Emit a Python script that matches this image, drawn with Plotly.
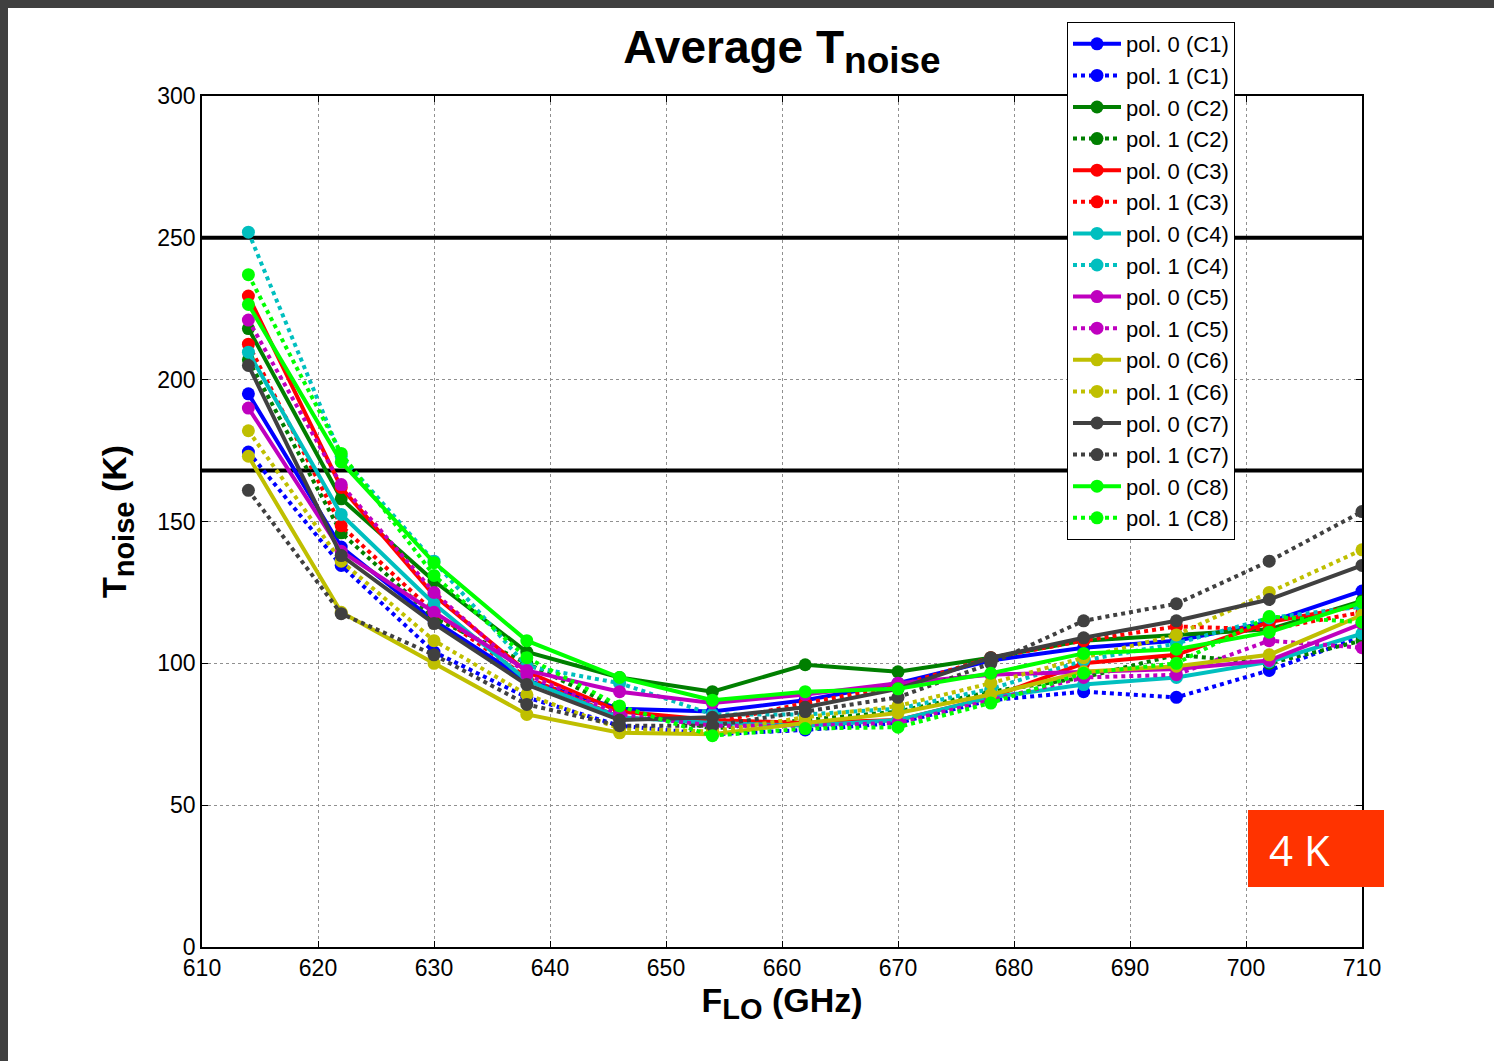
import plotly.graph_objects as go

freq = [614, 622, 630, 638, 646, 654, 662, 670, 678, 686, 694, 702, 710]

c1_pol0 = [195, 141, 115, 94, 84, 83, 87, 93, 101, 105.5, 108, 114.5, 125.5]
c1_pol1 = [174.5, 134.5, 104, 88, 78, 75, 76.5, 79, 87, 90, 88, 97.5, 109.5]
c2_pol0 = [218, 158, 129, 104, 95, 90, 99.5, 97, 102, 108, 110, 112, 122]
c2_pol1 = [207, 146, 116, 100, 84, 77, 80, 83, 90, 95, 103, 100, 108]
c3_pol0 = [229.5, 162, 124, 97, 83, 80, 79, 80, 88, 100, 103, 114.5, 120.5]
c3_pol1 = [212.5, 148.5, 118, 95, 81, 79, 86, 92, 102, 108, 113, 112, 118]
c4_pol0 = [209.7, 152.5, 121, 94, 81, 79, 78, 80, 88, 92.5, 95, 100.5, 110.5]
c4_pol1 = [252, 173, 136, 99, 93, 82, 82, 84, 91, 101, 107, 116, 120]
c5_pol0 = [190, 139.5, 118, 97.5, 90, 86, 89, 93, 96, 97, 98, 101, 114]
c5_pol1 = [221, 163, 125, 96, 82, 78, 78, 79, 87, 95, 96, 108, 105.5]
c6_pol0 = [173, 118, 100, 82, 75.5, 75, 79, 82.5, 89, 97, 99, 103, 117]
c6_pol1 = [182, 136, 108, 89, 77, 76, 81, 85, 93, 102, 110, 125, 140]
c7_pol0 = [205, 138, 114, 92.5, 80, 81, 84.5, 91, 102, 109, 115, 122.5, 134.5]
c7_pol1 = [161, 117.5, 103, 85.5, 78, 78, 83, 88, 100, 115, 121, 136, 153.5]
c8_pol0 = [226.5, 171, 135.5, 108, 95, 87, 90, 91, 96.5, 103.5, 105, 111, 121.5]
c8_pol1 = [237, 174, 131, 102, 85, 74.5, 77, 77.5, 86, 96.5, 100, 116.5, 114.5]

limit_lines = [250, 168]

series = [
    ("pol. 0 (C1)", c1_pol0, "#0000FF", "solid"),
    ("pol. 1 (C1)", c1_pol1, "#0000FF", "dot"),
    ("pol. 0 (C2)", c2_pol0, "#007F00", "solid"),
    ("pol. 1 (C2)", c2_pol1, "#007F00", "dot"),
    ("pol. 0 (C3)", c3_pol0, "#FF0000", "solid"),
    ("pol. 1 (C3)", c3_pol1, "#FF0000", "dot"),
    ("pol. 0 (C4)", c4_pol0, "#00BFBF", "solid"),
    ("pol. 1 (C4)", c4_pol1, "#00BFBF", "dot"),
    ("pol. 0 (C5)", c5_pol0, "#BF00BF", "solid"),
    ("pol. 1 (C5)", c5_pol1, "#BF00BF", "dot"),
    ("pol. 0 (C6)", c6_pol0, "#BFBF00", "solid"),
    ("pol. 1 (C6)", c6_pol1, "#BFBF00", "dot"),
    ("pol. 0 (C7)", c7_pol0, "#404040", "solid"),
    ("pol. 1 (C7)", c7_pol1, "#404040", "dot"),
    ("pol. 0 (C8)", c8_pol0, "#00FF00", "solid"),
    ("pol. 1 (C8)", c8_pol1, "#00FF00", "dot"),
]

fig = go.Figure()

for yv in limit_lines:
    fig.add_trace(go.Scatter(x=[610, 710], y=[yv, yv], mode="lines",
                             line=dict(color="black", width=4),
                             showlegend=False, hoverinfo="skip"))

for name, vals, color, dash in series:
    fig.add_trace(go.Scatter(
        x=freq, y=vals, name=name, mode="lines+markers",
        line=dict(color=color, width=4, dash=dash),
        marker=dict(color=color, size=13, symbol="circle"),
    ))

W, H = 1494, 1061
L, R, T, B = 202, 132, 96, 114
pw, ph = W - L - R, H - T - B

def px(xp):
    return (xp - L) / pw

def py(yp):
    return (H - B - yp) / ph

shapes = [
    dict(type="rect", xref="paper", yref="paper", x0=px(0), x1=px(W), y0=py(8), y1=py(0),
         fillcolor="#404040", line=dict(width=0), layer="above"),
    dict(type="rect", xref="paper", yref="paper", x0=px(0), x1=px(8), y0=py(H), y1=py(0),
         fillcolor="#404040", line=dict(width=0), layer="above"),
    dict(type="rect", xref="paper", yref="paper", x0=px(1248), x1=px(1384), y0=py(887), y1=py(810),
         fillcolor="#FF3300", line=dict(width=0), layer="above"),
]

annotations = [
    dict(text="4 K", xref="paper", yref="paper", x=px(1299), y=py(849),
         xanchor="center", yanchor="middle", showarrow=False,
         font=dict(family="Open Sans", size=42, color="white")),
]

axis_common = dict(
    showgrid=True, gridcolor="#909090", griddash="dot", gridwidth=1,
    showline=True, linecolor="black", linewidth=1.5, mirror="ticks",
    ticks="inside", ticklen=6, tickcolor="black",
    zeroline=False,
    tickfont=dict(family="Liberation Sans, Arial", size=23, color="black"),
)

fig.update_layout(
    width=W, height=H,
    margin=dict(l=L, r=R, t=T, b=B, autoexpand=False),
    paper_bgcolor="white", plot_bgcolor="white",
    font=dict(family="Liberation Sans, Arial", color="black"),
    title=dict(
        text="<b>Average T<sub><span style='font-size:37px'>noise</span></sub></b>",
        x=0.5, xref="paper", xanchor="center",
        y=1 - 47 / H, yref="container", yanchor="middle",
        font=dict(size=46, family="Liberation Sans, Arial", color="black"),
    ),
    xaxis=dict(range=[610, 710], dtick=10, tick0=610,
               title=dict(text="<b>F<sub><span style='font-size:29px'>LO</span></sub> (GHz)</b>",
                          font=dict(size=34), standoff=8),
               **axis_common),
    yaxis=dict(range=[0, 300], dtick=50, tick0=0,
               title=dict(text="<b>T<sub><span style='font-size:29px'>noise</span></sub> (K)</b>",
                          font=dict(size=34), standoff=20),
               **axis_common),
    legend=dict(
        x=px(1067), y=py(22), xanchor="left", yanchor="top",
        bgcolor="white", bordercolor="black", borderwidth=1,
        font=dict(size=22, family="Liberation Sans, Arial", color="black"),
        tracegroupgap=0, itemwidth=48,
    ),
    shapes=shapes,
    annotations=annotations,
)

fig.write_html("out.html")
